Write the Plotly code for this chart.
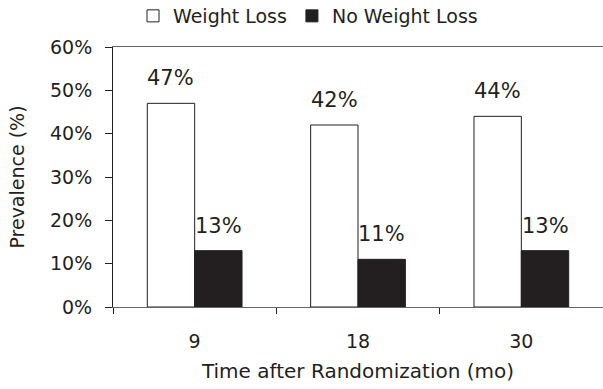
import plotly.graph_objects as go

categories = ["9", "18", "30"]
weight_loss = [0.47, 0.42, 0.44]
no_weight_loss = [0.13, 0.11, 0.13]
series_names = ["Weight Loss", "No Weight Loss"]
y_ticks = [0, 0.1, 0.2, 0.3, 0.4, 0.5, 0.6]

FONT = "DejaVu Sans"
INK = "#231f20"
W, H = 603, 389
ML, MR, MT, MB = 113, 0, 47, 82
BARGAP = 0.42

fig = go.Figure()
fig.add_trace(go.Bar(x=categories, y=weight_loss, name=series_names[0],
                     marker=dict(color="white", line=dict(color=INK, width=1))))
fig.add_trace(go.Bar(x=categories, y=no_weight_loss, name=series_names[1],
                     marker=dict(color=INK, line=dict(color=INK, width=1))))

# value labels above bars, offset to each bar of the group
cat_px = (W - ML - MR) / len(categories)
bar_px = cat_px * (1 - BARGAP) / 2
for vals, shift in ((weight_loss, -bar_px / 2), (no_weight_loss, bar_px / 2)):
    for i, v in enumerate(vals):
        fig.add_annotation(x=i, y=v, text=f"{round(v * 100)}%", showarrow=False,
                           xanchor="center", yanchor="bottom", xshift=shift, yshift=11,
                           font=dict(family=FONT, size=21, color=INK))

fig.update_layout(
    width=W, height=H,
    margin=dict(l=ML, r=MR, t=MT, b=MB, autoexpand=False),
    paper_bgcolor="white", plot_bgcolor="white",
    barmode="group", bargap=BARGAP, bargroupgap=0,
    font=dict(family=FONT, size=19, color=INK),
    showlegend=True,
    legend=dict(orientation="h", xref="container", yref="container",
                x=308 / W, y=1 - 16 / H, xanchor="center", yanchor="middle",
                font=dict(family=FONT, size=19, color=INK),
                itemwidth=30, tracegroupgap=0, bgcolor="rgba(0,0,0,0)"),
    xaxis=dict(type="category", range=[-0.5, len(categories) - 0.5],
               showline=True, linecolor="#666", linewidth=1,
               mirror=True, showgrid=False, ticks="outside", tickson="boundaries",
               ticklen=6, tickcolor=INK, ticklabelstandoff=17, tickangle=0,
               tickfont=dict(family=FONT, size=19, color=INK),
               title=dict(text="Time after Randomization (mo)", standoff=13,
                          font=dict(family=FONT, size=20, color=INK)),
               automargin=False),
    yaxis=dict(range=[0, 0.6], tickvals=y_ticks, tickformat=".0%", showline=True,
               linecolor=INK, linewidth=1, showgrid=False, zeroline=False,
               ticks="outside", ticklen=7, tickcolor=INK, ticklabelstandoff=9,
               tickfont=dict(family=FONT, size=19, color=INK),
               title=dict(text="Prevalence (%)", standoff=20,
                          font=dict(family=FONT, size=19, color=INK)),
               automargin=False),
)

fig.write_html("out.html")
